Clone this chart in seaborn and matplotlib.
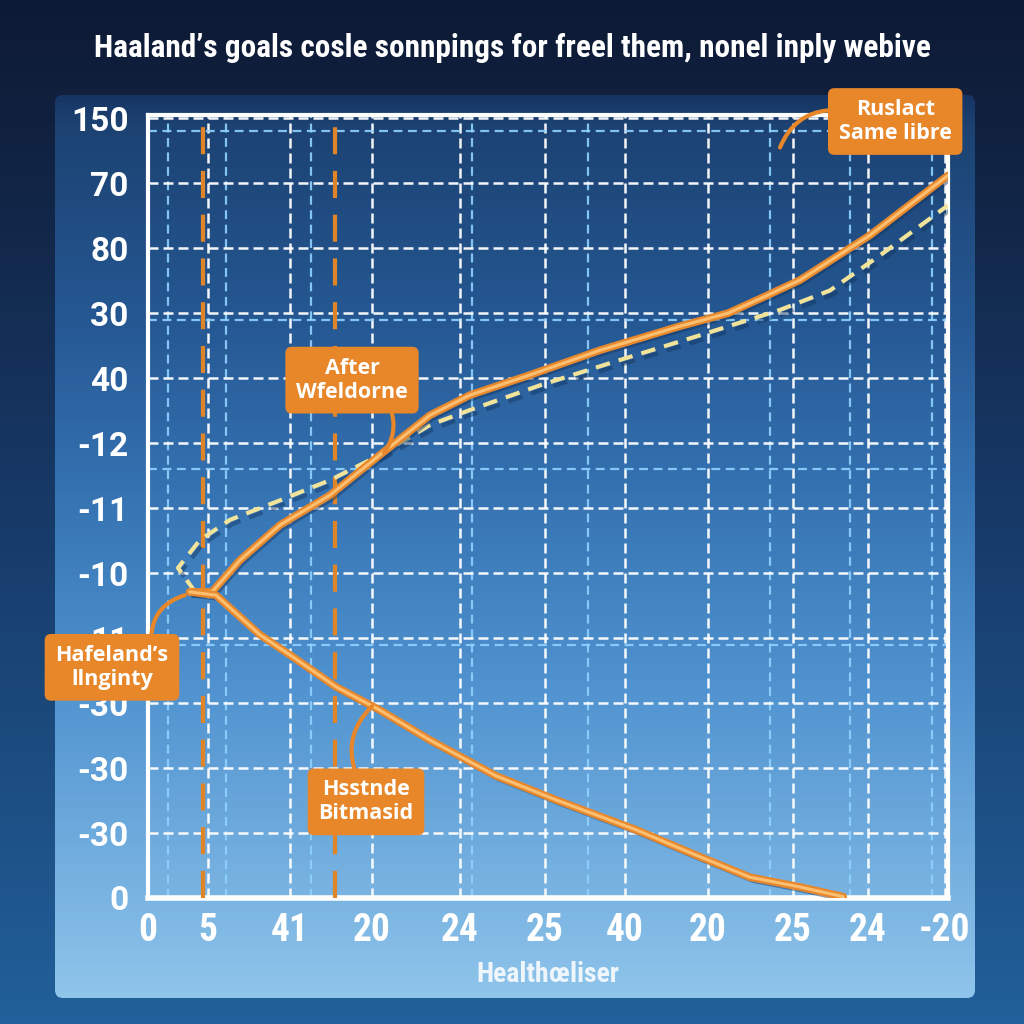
import numpy as np
import pandas as pd
import matplotlib
matplotlib.use("Agg")
import matplotlib.pyplot as plt
import seaborn as sns
from matplotlib.colors import LinearSegmentedColormap
from matplotlib.patches import FancyBboxPatch
from matplotlib.ticker import FixedLocator
import matplotlib.patheffects as pe
import logging
logging.getLogger("matplotlib.font_manager").setLevel(logging.ERROR)

# ---------------- data ----------------
title = "Haaland’s goals cosle sonnpings for freel them, nonel inply webive"
x_label = "Healthœliser"
x_tick_labels = ["0", "5", "41", "20", "24", "25", "40", "20", "25", "24", "-20"]
y_tick_labels = ["0", "-30", "-30", "-30", "11", "-10", "-11", "-12",
                 "40", "30", "80", "70", "150"]

upper_x = [5.2, 8.0, 11.5, 16.5, 22.75, 29.0, 35.25, 40.25, 47.75, 56.5, 66.5, 72.5, 77.5, 81.5, 90.25, 100.0]
upper_y = [4.71, 4.71, 5.20, 5.74, 6.20, 6.82, 7.43, 7.74, 8.05, 8.43, 8.80, 9.00, 9.28, 9.51, 10.20, 11.12]

trend_x = [5.9, 3.75, 6.5, 10.25, 16.5, 22.75, 29.0, 35.25, 40.25, 49.0, 59.0, 69.0, 79.0, 85.25, 91.5, 100.0]
trend_y = [4.71, 5.08, 5.51, 5.82, 6.12, 6.43, 6.82, 7.28, 7.51, 7.89, 8.28, 8.66, 9.05, 9.35, 9.89, 10.66]

lower_x = [5.25, 8.5, 14.0, 17.75, 23.5, 29.0, 35.25, 43.5, 51.0, 61.0, 68.5, 75.25, 81.5, 86.9]
lower_y = [4.71, 4.66, 4.05, 3.74, 3.25, 2.89, 2.43, 1.88, 1.51, 1.05, 0.66, 0.32, 0.17, 0.02]

marker_x = [6.9, 23.4]

note_texts = ["After\nWfeldorne", "Hafeland’s\nllnginty", "Hsstnde\nBitmasid", "Ruslact\nSame libre"]

# ---------------- style ----------------
sns.set_theme(style="white")
plt.rcParams["font.family"] = ["DejaVu Sans"]
NARROW = ["Roboto Condensed", "DejaVu Sans Condensed", "Liberation Sans Narrow", "Roboto", "DejaVu Sans"]
WIDE = ["Roboto", "DejaVu Sans"]
ORANGE = "#e8862a"

fig = plt.figure(figsize=(10.24, 10.24), dpi=100)

# background
bg = fig.add_axes([0, 0, 1, 1])
bg.set_xlim(0, 1024)
bg.set_ylim(1024, 0)
bg.axis("off")
bg_cmap = LinearSegmentedColormap.from_list(
    "bg", [(0, "#0d1a35"), (0.12, "#10213f"), (0.5, "#173a68"), (1, "#21609a")])
bg.imshow(np.linspace(0, 1, 256)[:, None], cmap=bg_cmap, aspect="auto",
          extent=(0, 1024, 1024, 0), zorder=0)
panel_cmap = LinearSegmentedColormap.from_list(
    "panel", [(0, "#173564"), (0.03, "#1c4272"), (0.25, "#255893"),
              (0.45, "#3674b4"), (0.65, "#4f92cf"), (0.89, "#7ab4e2"), (1, "#8fc5eb")])
panel_img = bg.imshow(np.linspace(0, 1, 256)[:, None], cmap=panel_cmap, aspect="auto",
                      extent=(55, 975, 998, 95), zorder=1)
clip = FancyBboxPatch((55, 95), 920, 903, boxstyle="round,pad=0,rounding_size=8",
                      transform=bg.transData, facecolor="none", edgecolor="none")
bg.add_patch(clip)
panel_img.set_clip_path(clip)

# main axes
ax = fig.add_axes([148 / 1024, 1 - 898 / 1024, 800 / 1024, 783 / 1024])
ax.set_facecolor("none")
ax.set_xlim(0, 100)
ax.set_ylim(0, 12.05)

x_tick_pos = [0, 7.5, 17.75, 28, 39, 49.6, 59.6, 70, 80.6, 90, 99.6]
ax.set_xticks(x_tick_pos)
ax.set_xticklabels(x_tick_labels, fontsize=27, fontweight="bold", color="white", family=NARROW)
ax.set_yticks(range(len(y_tick_labels)))
ax.set_yticklabels(y_tick_labels, fontsize=24, fontweight="bold", color="white", family=WIDE)
ax.xaxis.set_minor_locator(FixedLocator([2.5, 9.75, 20.4, 40.5, 55, 77.75, 87.75, 98]))
ax.yaxis.set_minor_locator(FixedLocator([11.8, 8.9, 3.9, 6.6]))
ax.tick_params(which="both", length=0)
ax.tick_params(axis="y", pad=14)
ax.tick_params(axis="x", pad=10)

ax.grid(which="major", color="white", lw=1.8, ls=(0, (4, 2)), alpha=0.95)
ax.grid(which="minor", color="#8fd2ff", lw=1.6, ls=(0, (4, 2.5)), alpha=0.9)
ax.set_axisbelow(True)
for s in ax.spines.values():
    s.set_color("white")
    s.set_linewidth(3)
    s.set_visible(True)
ax.spines["bottom"].set_linewidth(4)

# vertical orange dashed markers
for mx in marker_x:
    ax.axvline(mx, color="#e08428", lw=3, ls=(0, (6.5, 4)), zorder=3)

shadow = pe.SimpleLineShadow(offset=(2, -3), shadow_color="#12335e", alpha=0.45)
solid_fx = [shadow, pe.Stroke(linewidth=5.5, foreground="#e8882c"), pe.Normal()]

sns.lineplot(x=trend_x, y=trend_y, sort=False, estimator=None, ax=ax,
             color="#f1e39a", lw=3.0, ls=(0, (3.5, 2.2)), zorder=4,
             path_effects=[shadow, pe.Normal()])
sns.lineplot(x=upper_x, y=upper_y, sort=False, estimator=None, ax=ax,
             color="#fbbf72", lw=2.2, zorder=5, path_effects=solid_fx)
sns.lineplot(x=lower_x, y=lower_y, sort=False, estimator=None, ax=ax,
             color="#fbbf72", lw=2.2, zorder=5, path_effects=solid_fx)

ax.set_xlabel(x_label, fontsize=20, fontweight="bold", color="#eef6fc", family=NARROW, labelpad=9)
ax.set_ylabel("")

# annotations
box = dict(boxstyle="round,pad=0.5,rounding_size=0.3", facecolor=ORANGE, edgecolor="none")
note_kw = dict(fontsize=15.5, fontweight="bold", color="white", ha="center", va="center",
               linespacing=1.2, bbox=box, zorder=8, annotation_clip=False,
               family=["Open Sans", "DejaVu Sans"])


def leader(rad, rel):
    return dict(arrowstyle="-", color=ORANGE, lw=3, shrinkA=0, shrinkB=0,
                connectionstyle=f"arc3,rad={rad}", relpos=rel)


ax.annotate(note_texts[0], xy=(29.5, 6.85), xytext=(25.5, 7.97),
            arrowprops=leader(-0.3, (0.82, 0.0)), **note_kw)
ax.annotate(note_texts[1], xy=(4.6, 4.66), xytext=(-4.5, 3.55),
            arrowprops=leader(-0.4, (0.85, 1.0)), **note_kw)
ax.annotate(note_texts[2], xy=(28.0, 2.95), xytext=(27.25, 1.48),
            arrowprops=leader(-0.35, (0.42, 1.0)), **note_kw)
ax.annotate(note_texts[3], xy=(79.0, 11.55), xytext=(93.4, 11.95),
            arrowprops=leader(0.35, (0.0, 0.75)), **note_kw)

t = fig.text(0.5, 1 - 48 / 1024, title, ha="center", va="center", color="white",
             fontsize=24, fontweight="bold", family=NARROW)
fig.canvas.draw()
w = t.get_window_extent().width
if w > 838:
    t.set_fontsize(24 * 838 / w)
xl = ax.xaxis.label
wl = xl.get_window_extent().width
if wl > 150:
    xl.set_fontsize(20 * 150 / wl)

fig.savefig("out.png", dpi=100)
